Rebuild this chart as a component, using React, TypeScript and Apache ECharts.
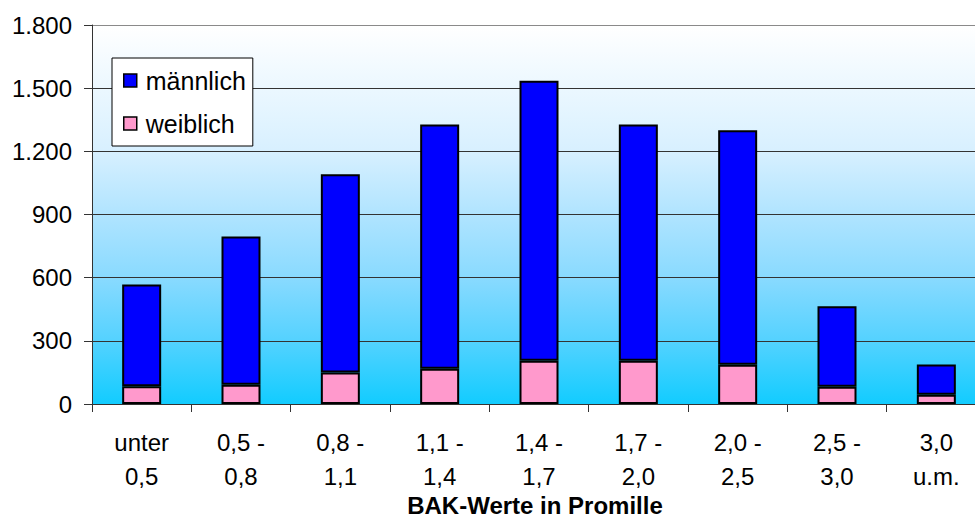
import React, { useEffect, useRef } from "react";
import * as echarts from "echarts";

const categories = [
  "unter\n0,5",
  "0,5 -\n0,8",
  "0,8 -\n1,1",
  "1,1 -\n1,4",
  "1,4 -\n1,7",
  "1,7 -\n2,0",
  "2,0 -\n2,5",
  "2,5 -\n3,0",
  "3,0\nu.m.",
];
const weiblich = [84, 92, 150, 168, 206, 206, 187, 82, 44];
const maennlich = [484, 704, 941, 1160, 1329, 1122, 1113, 382, 144];
const yTicks = [0, 300, 600, 900, 1200, 1500, 1800];
const axisTitle = "BAK-Werte in Promille";

const FONT = '"Liberation Sans", Arial, sans-serif';

function fmtDe(v: number): string {
  const s = String(Math.round(v));
  return s.replace(/\B(?=(\d{3})+(?!\d))/g, ".");
}

export default function App() {
  const ref = useRef<HTMLDivElement>(null);
  useEffect(() => {
    if (!ref.current) return;
    const chart = echarts.init(ref.current, null, { renderer: "svg" });
    const gridColors = yTicks.map((_, i) => (i === yTicks.length - 1 ? "#8a8a8a" : "#333333"));
    chart.setOption({
      animation: false,
      textStyle: { fontFamily: FONT },
      grid: {
        left: 92,
        top: 25,
        width: 894,
        height: 379,
        outerBoundsMode: "none",
        containLabel: false,
        show: true,
        borderWidth: 0,
        backgroundColor: new echarts.graphic.LinearGradient(0, 0, 0, 1, [
          { offset: 0, color: "#ffffff" },
          { offset: 0.33, color: "#d8f0ff" },
          { offset: 0.5, color: "#b0e4ff" },
          { offset: 0.67, color: "#88daff" },
          { offset: 0.83, color: "#55d2ff" },
          { offset: 1, color: "#12ccff" },
        ]),
      },
      legend: {
        orient: "vertical",
        left: 112,
        top: 58,
        data: ["männlich", "weiblich"],
        padding: [10, 7, 10, 11],
        itemGap: 18,
        itemWidth: 13,
        itemHeight: 13,
        icon: "rect",
        backgroundColor: "#ffffff",
        borderColor: "#000000",
        borderWidth: 1,
        itemStyle: { borderColor: "#000000", borderWidth: 1.5 },
        textStyle: {
          fontFamily: FONT,
          fontSize: 25,
          lineHeight: 24,
          color: "#000000",
          padding: [0, 0, 0, 4],
        },
      },
      xAxis: {
        type: "category",
        data: categories,
        name: axisTitle,
        nameLocation: "middle",
        nameGap: 90,
        nameMoveOverlap: false,
        nameTextStyle: {
          fontFamily: FONT,
          fontSize: 24,
          lineHeight: 22,
          fontWeight: "bold",
          color: "#000000",
          padding: [0, 8, 0, 0],
        },
        axisLine: { show: true, lineStyle: { color: "#333333", width: 1 } },
        axisTick: { show: true, length: 8, lineStyle: { color: "#333333" } },
        axisLabel: {
          interval: 0,
          margin: 21,
          fontFamily: FONT,
          fontSize: 24,
          lineHeight: 34,
          color: "#000000",
        },
        splitLine: { show: false },
      },
      yAxis: {
        type: "value",
        min: 0,
        max: 1800,
        interval: 300,
        axisLine: { show: true, lineStyle: { color: "#333333", width: 1 } },
        axisTick: { show: true, length: 8, lineStyle: { color: "#333333" } },
        axisLabel: {
          margin: 20,
          fontFamily: FONT,
          fontSize: 24,
          color: "#000000",
          formatter: (v: number) => fmtDe(v),
        },
        splitLine: { show: true, lineStyle: { color: gridColors, width: 1 } },
      },
      series: [
        {
          name: "weiblich",
          type: "bar",
          stack: "total",
          data: weiblich,
          barWidth: 39,
          itemStyle: { color: "#ff99cc", borderColor: "#000000", borderWidth: 2 },
        },
        {
          name: "männlich",
          type: "bar",
          stack: "total",
          data: maennlich,
          barWidth: 39,
          itemStyle: { color: "#0000ff", borderColor: "#000000", borderWidth: 2 },
        },
      ],
    });
    return () => chart.dispose();
  }, []);
  return (
    <div
      ref={ref}
      style={{ position: "absolute", left: 0, top: 0, width: 975, height: 520, background: "#ffffff" }}
    />
  );
}
